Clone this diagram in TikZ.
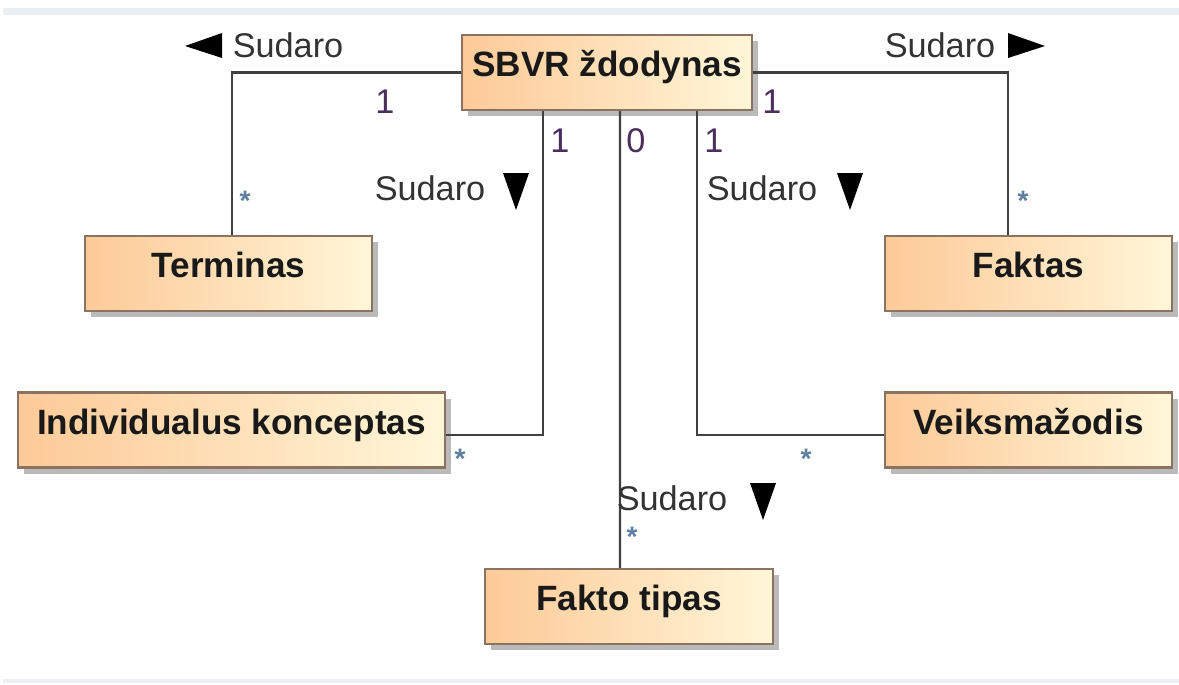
\documentclass[tikz,border=0pt]{standalone}
\usepackage{fontspec}
\setmainfont{Liberation Sans}
\usetikzlibrary{shadows}
\definecolor{boxleft}{HTML}{FDCA98}
\definecolor{boxright}{HTML}{FFF6D8}
\definecolor{boxline}{HTML}{8C7260}
\definecolor{multcol}{HTML}{4B2D5E}
\definecolor{starcol}{HTML}{5F7F9F}
\definecolor{rulecol}{HTML}{EAEFF4}
\tikzset{
  klase/.style={draw=boxline, line width=1.2pt, left color=boxleft, right color=boxright,
    minimum height=1.5cm, text height=15pt, text depth=10pt, inner sep=0pt,
    font=\fontsize{20}{24}\selectfont\bfseries, text=black!90,
    drop shadow={shadow xshift=0.12cm, shadow yshift=-0.12cm, fill=black!45, opacity=0.6}},
  rysys/.style={draw=black!75, line width=1.4pt},
  vardas/.style={font=\fontsize{19.5}{23}\selectfont, text=black!80, inner sep=0pt},
  kiek/.style={font=\fontsize{19.5}{23}\selectfont, text=multcol, inner sep=0pt},
  zvaigzde/.style={font=\fontsize{16}{18}\selectfont\bfseries, text=starcol, inner sep=0pt}
}
\begin{document}
\begin{tikzpicture}[x=0.02cm, y=-0.02cm]
    \useasboundingbox[fill=white] (0,0) rectangle (1179,684);
    \fill[rulecol] (3,8) rectangle (1179,15);
    \fill[rulecol] (3,679) rectangle (1179,683);
    % klases
    \node[klase, minimum width=5.8cm] (zod) at (607,72.5) {SBVR ždodynas};
    \node[klase, minimum width=5.74cm] (term) at (228.5,273.5) {Terminas};
    \node[klase, minimum width=5.74cm] (fakt) at (1028.5,273.5) {Faktas};
    \node[klase, minimum width=8.54cm] (ind) at (231.5,430) {Individualus konceptas};
    \node[klase, minimum width=5.74cm] (veik) at (1028.5,430) {Veiksmažodis};
    \node[klase, minimum width=5.76cm] (ftip) at (629,606.5) {Fakto tipas};
    % rysiai
    \draw[rysys] (zod.west) -| ([xshift=0.07cm]term.north);
    \draw[rysys] (zod.east) -| ([xshift=-0.41cm]fakt.north);
    \draw[rysys] ([xshift=-1.28cm]zod.south) |- ([yshift=-0.1cm]ind.east);
    \draw[rysys] ([xshift=0.26cm]zod.south) -- ([xshift=-0.18cm]ftip.north);
    \draw[rysys] ([xshift=1.8cm]zod.south) |- ([yshift=-0.1cm]veik.west);
    % kardinalumai
    \node[kiek] (k1) at (385,102) {1};
    \node[kiek] (k2) at (772,102) {1};
    \node[kiek] (k3) at (560,141) {1};
    \node[kiek] (k4) at (636,141) {0};
    \node[kiek] (k5) at (714,141) {1};
    \node[zvaigzde] (z1) at (245,201) {*};
    \node[zvaigzde] (z2) at (1023,201) {*};
    \node[zvaigzde] (z3) at (460,459) {*};
    \node[zvaigzde] (z4) at (806,459) {*};
    \node[zvaigzde] (z5) at (632,537) {*};
    % pavadinimai
    \node[vardas] (s1) at (288,45) {Sudaro};
    \node[vardas] (s2) at (940,45) {Sudaro};
    \node[vardas] (s3) at (430,188) {Sudaro};
    \node[vardas] (s4) at (762,188) {Sudaro};
    \node[vardas] (s5) at (672,498) {Sudaro};
    \fill (185,46) -- (222,33) -- (222,58) -- cycle;
    \fill (1045,46) -- (1008,33) -- (1008,58) -- cycle;
    \fill (516,210) -- (503,173) -- (529,173) -- cycle;
    \fill (850,210) -- (837,173) -- (863,173) -- cycle;
    \fill (763,520) -- (750,483) -- (776,483) -- cycle;
\end{tikzpicture}
\end{document}
